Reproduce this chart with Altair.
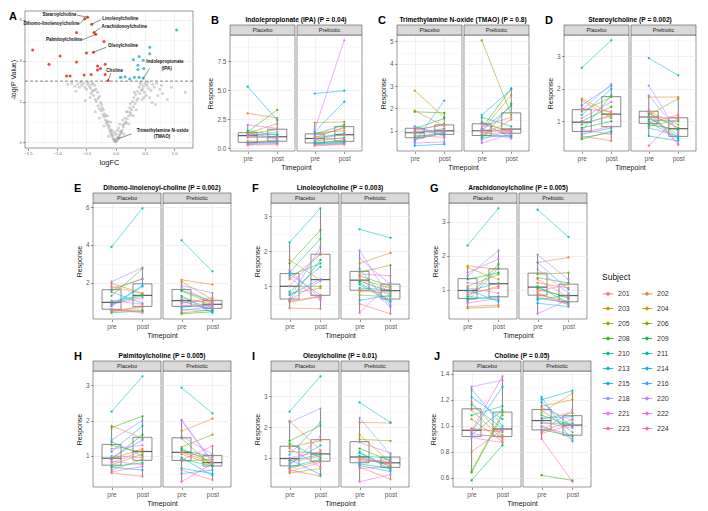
import math
import altair as alt
import pandas as pd

FONT = "Liberation Sans"

# ---------------- data ----------------
SUBJECTS = ["201", "202", "203", "204", "205", "206", "208", "209", "210", "211",
            "213", "214", "215", "216", "218", "220", "221", "222", "223", "224"]
TIMES = ["pre", "post"]
ARMS = ["Placebo", "Prebiotic"]

LETTERS = ["B", "C", "D", "E", "F", "G", "H", "I", "J"]
TITLES = ["Indolepropionate (IPA)", "Trimethylamine N-oxide (TMAO)", "Stearoylcholine",
          "Dihomo-linolenoyl-choline", "Linoleoylcholine", "Arachidonoylcholine",
          "Palmitoylcholine", "Oleoylcholine", "Choline"]
PVALUES = ["0.04", "0.8", "0.002", "0.002", "0.003", "0.005", "0.005", "0.01", "0.05"]
Y_MAJOR = [[0, 2.5, 5, 7.5], [1, 2, 3, 4, 5], [1, 2, 3], [2, 4, 6], [1, 2, 3],
           [1, 2, 3], [1, 2, 3], [1, 2, 3], [0.6, 0.8, 1.0, 1.2, 1.4]]
Y_FMT = [".1f", "d", "d", "d", "d", "d", "d", "d", ".1f"]

# values per subject (order of SUBJECTS)
ipa_pl_pre = [0.6, 3.0, 1.3, 0.9, 0.5, 1.2, 1.4, 1.15, 0.4, 1.5, 1.1, 0.3, 5.3, 0.45, 1.05, 1.0, 2.0, 0.35, 1.2, 0.25]
ipa_pl_post = [0.5, 2.6, 2.1, 1.0, 0.7, 1.6, 3.3, 1.2, 0.6, 1.1, 0.9, 0.4, 2.4, 0.55, 1.4, 0.8, 1.7, 0.5, 0.95, 0.3]
ipa_pb_pre = [0.5, 1.0, 2.2, 1.3, 0.3, 0.9, 0.6, 0.4, 1.2, 0.8, 0.45, 4.7, 1.4, 0.35, 0.7, 0.25, 1.6, 0.85, 1.1, 0.2]
ipa_pb_post = [0.6, 1.1, 2.25, 1.5, 0.4, 1.8, 0.9, 0.7, 2.0, 1.3, 0.5, 4.95, 4.0, 0.45, 1.2, 0.35, 9.3, 0.8, 1.7, 0.3]

tmao_pl_pre = [0.8, 1.9, 2.8, 0.95, 0.75, 1.0, 1.85, 1.1, 0.6, 0.9, 0.7, 1.2, 0.33, 0.5, 0.85, 1.15, 0.45, 1.05, 0.65, 0.92]
tmao_pl_post = [0.7, 1.2, 1.6, 1.0, 0.85, 1.3, 1.8, 1.55, 0.9, 1.1, 0.95, 0.8, 0.4, 2.35, 1.0, 0.75, 0.5, 1.25, 0.9, 1.05]
tmao_pb_pre = [1.3, 0.9, 1.0, 0.75, 1.4, 5.05, 0.65, 1.1, 0.8, 1.6, 0.7, 1.7, 1.0, 1.35, 0.6, 0.95, 0.45, 1.2, 1.05, 0.85]
tmao_pb_post = [1.0, 1.1, 2.6, 1.5, 0.9, 1.7, 2.2, 2.9, 0.75, 1.2, 0.8, 2.85, 2.1, 0.7, 1.05, 0.65, 0.85, 1.6, 1.0, 0.95]

stea_pl_pre = [0.55, 1.7, 1.65, 0.9, 0.5, 1.3, 1.0, 0.8, 0.45, 0.7, 2.65, 1.2, 0.6, 1.5, 0.95, 1.35, 1.1, 0.75, 1.4, 0.65]
stea_pl_post = [0.4, 1.25, 1.1, 1.2, 0.65, 1.75, 1.45, 1.0, 0.7, 1.8, 3.5, 2.0, 0.8, 2.1, 1.15, 2.15, 1.6, 0.6, 1.3, 0.85]
stea_pb_pre = [0.95, 1.75, 1.3, 1.1, 0.85, 1.2, 1.25, 0.9, 1.15, 1.05, 2.95, 1.0, 0.55, 0.8, 1.8, 2.1, 1.35, 0.25, 1.12, 1.28]
stea_pb_post = [1.2, 1.75, 0.9, 0.6, 1.05, 1.7, 0.8, 0.75, 0.5, 1.0, 2.42, 0.45, 0.4, 0.55, 0.7, 0.65, 0.3, 1.15, 1.1, 0.28]

dihomo_pl_pre = [0.6, 1.8, 1.95, 0.5, 0.45, 1.3, 1.6, 0.9, 0.4, 1.0, 3.9, 0.75, 0.8, 1.5, 2.05, 1.7, 1.05, 0.55, 0.85, 0.5]
dihomo_pl_post = [0.45, 1.4, 1.45, 0.55, 0.7, 2.75, 2.2, 1.3, 0.5, 1.35, 5.95, 1.8, 1.85, 0.9, 2.8, 2.2, 0.85, 0.4, 1.2, 0.75]
dihomo_pb_pre = [0.9, 2.15, 2.05, 1.2, 0.4, 1.55, 0.35, 1.6, 1.0, 0.7, 4.25, 1.3, 0.6, 1.1, 1.85, 1.75, 0.8, 0.5, 0.95, 0.75]
dihomo_pb_post = [1.2, 1.9, 1.1, 0.85, 0.55, 0.9, 0.45, 1.0, 0.6, 0.8, 2.6, 0.4, 0.5, 0.7, 1.45, 0.95, 0.65, 0.75, 1.05, 0.85]

lino_pl_pre = [0.38, 1.75, 1.2, 0.8, 0.55, 1.0, 1.65, 0.6, 1.4, 1.3, 2.25, 0.85, 0.75, 1.35, 0.65, 1.0, 1.25, 0.6, 1.45, 0.58]
lino_pl_post = [0.36, 1.18, 1.9, 0.95, 0.7, 1.0, 2.6, 1.75, 2.35, 1.65, 3.22, 1.55, 1.2, 0.75, 2.12, 1.95, 0.6, 1.15, 0.65, 0.72]
lino_pb_pre = [0.5, 1.65, 1.2, 0.9, 0.75, 1.4, 1.3, 1.15, 1.1, 0.95, 2.62, 1.05, 0.6, 1.5, 1.8, 2.02, 0.25, 1.25, 1.35, 0.85]
lino_pb_post = [0.22, 1.95, 0.95, 0.8, 0.7, 1.6, 1.0, 0.85, 0.6, 0.9, 2.38, 0.55, 0.75, 0.45, 1.05, 0.65, 1.1, 0.4, 1.3, 0.92]

arach_pl_pre = [0.5, 1.7, 1.65, 0.85, 0.45, 1.1, 0.75, 1.3, 0.7, 0.95, 2.3, 0.8, 1.0, 0.65, 1.4, 1.5, 1.2, 0.6, 1.05, 0.9]
arach_pl_post = [0.55, 1.6, 1.3, 1.1, 0.5, 1.45, 1.75, 1.5, 0.8, 1.2, 3.4, 0.7, 0.65, 1.65, 2.15, 1.9, 1.15, 0.75, 0.9, 1.05]
arach_pb_pre = [0.9, 1.8, 1.2, 1.0, 0.85, 1.45, 1.35, 1.05, 1.1, 0.7, 3.36, 0.6, 0.75, 1.8, 2.03, 1.6, 0.29, 0.95, 1.3, 0.8]
arach_pb_post = [0.55, 1.95, 1.05, 0.8, 0.65, 1.5, 1.2, 0.75, 0.6, 0.85, 2.55, 0.5, 0.62, 1.0, 1.3, 0.9, 0.7, 1.15, 0.78, 0.58]

palm_pl_pre = [0.52, 1.85, 0.92, 0.75, 0.6, 1.3, 1.8, 0.9, 0.7, 1.4, 2.25, 1.12, 0.68, 0.95, 1.45, 0.85, 1.2, 0.55, 0.8, 1.0]
palm_pl_post = [0.42, 1.5, 1.2, 1.05, 0.9, 1.1, 2.12, 1.6, 0.8, 1.0, 3.25, 1.85, 0.6, 1.45, 2.0, 0.75, 1.3, 0.7, 1.15, 0.95]
palm_pb_pre = [0.6, 1.7, 1.1, 1.05, 0.85, 1.25, 1.5, 1.2, 1.15, 0.9, 2.93, 0.65, 0.95, 0.5, 2.02, 1.55, 2.0, 0.27, 0.88, 1.1]
palm_pb_post = [0.32, 2.05, 0.8, 0.75, 0.9, 1.6, 0.7, 0.82, 1.0, 0.72, 2.2, 0.5, 0.45, 0.6, 0.85, 1.05, 0.8, 0.78, 1.28, 0.95]

oleo_pl_pre = [0.6, 2.2, 1.35, 0.5, 0.65, 1.2, 1.55, 0.9, 1.45, 0.7, 2.5, 0.8, 0.95, 1.1, 2.15, 0.75, 1.0, 0.55, 1.3, 0.85]
oleo_pl_post = [0.4, 1.25, 1.55, 0.65, 0.9, 1.15, 2.05, 1.1, 1.0, 0.95, 3.65, 1.4, 0.45, 2.15, 2.6, 1.7, 1.2, 0.85, 0.7, 1.05]
oleo_pb_pre = [0.7, 2.15, 1.75, 1.0, 0.95, 1.6, 1.3, 1.05, 0.8, 1.15, 2.8, 1.2, 0.75, 0.85, 2.3, 1.5, 0.22, 1.0, 0.9, 0.65]
oleo_pb_post = [0.3, 2.13, 0.85, 0.75, 0.8, 1.55, 0.9, 1.0, 0.65, 0.7, 2.15, 0.6, 0.55, 0.95, 1.1, 1.15, 0.45, 0.82, 0.88, 0.72]

chol_pl_pre = [0.8, 1.18, 1.12, 1.05, 0.98, 0.65, 0.64, 0.58, 1.08, 0.93, 1.16, 0.95, 1.22, 1.28, 0.92, 1.3, 0.91, 0.96, 0.97, 0.94]
chol_pl_post = [0.97, 0.92, 0.9, 0.88, 0.95, 1.1, 1.08, 0.85, 1.15, 1.12, 0.98, 1.3, 1.05, 1.0, 0.93, 1.35, 0.87, 1.38, 0.96, 0.91]
chol_pb_pre = [1.0, 1.1, 1.15, 0.95, 1.05, 1.12, 0.62, 0.97, 1.08, 1.02, 1.2, 1.22, 1.18, 1.06, 0.99, 1.14, 1.03, 0.96, 0.9, 0.94]
chol_pb_post = [0.9, 1.25, 1.2, 1.05, 1.1, 0.95, 0.58, 0.92, 1.0, 1.02, 1.27, 0.88, 0.99, 1.07, 0.93, 1.04, 0.98, 1.12, 0.57, 1.01]

PANEL_VALUES = [
    (ipa_pl_pre, ipa_pl_post, ipa_pb_pre, ipa_pb_post),
    (tmao_pl_pre, tmao_pl_post, tmao_pb_pre, tmao_pb_post),
    (stea_pl_pre, stea_pl_post, stea_pb_pre, stea_pb_post),
    (dihomo_pl_pre, dihomo_pl_post, dihomo_pb_pre, dihomo_pb_post),
    (lino_pl_pre, lino_pl_post, lino_pb_pre, lino_pb_post),
    (arach_pl_pre, arach_pl_post, arach_pb_pre, arach_pb_post),
    (palm_pl_pre, palm_pl_post, palm_pb_pre, palm_pb_post),
    (oleo_pl_pre, oleo_pl_post, oleo_pb_pre, oleo_pb_post),
    (chol_pl_pre, chol_pl_post, chol_pb_pre, chol_pb_post),
]

# volcano plot (panel A)
red_fc = [-0.48, -0.53, -0.41, -0.67, -0.37, -0.34, -0.20, -1.42, -0.50, -0.38, -0.95, -0.67,
          -1.14, -0.31, -0.18, -0.26, -0.31, -0.84, -0.78, -0.54, -0.42, -0.18, -0.13]
red_p = [6.13, 6.06, 5.78, 5.38, 5.38, 5.30, 4.94, 4.53, 4.38, 4.42, 4.23, 3.94,
         3.83, 3.74, 3.83, 3.62, 3.54, 3.25, 3.25, 3.30, 3.33, 3.33, 3.03]
cyan_fc = [1.04, 0.58, 0.58, 0.40, 0.30, 0.47, 0.38, 0.48, 0.38, 0.16, 0.32, 0.40, 0.47, 0.08, 0.09, 0.24]
cyan_p = [5.51, 4.66, 4.34, 4.21, 4.05, 4.02, 3.78, 3.62, 3.57, 3.22, 3.19, 3.19, 3.14, 3.19, 3.19, 3.10]
grey_fc = [-0.02, 0.01, 0.03, -0.04, 0.05, -0.01, 0.02, -0.06, 0.07, 0.0,
           -0.08, 0.09, -0.05, 0.04, -0.1, 0.11, -0.03, 0.06, -0.12, 0.13,
           -0.09, 0.1, -0.14, 0.15, -0.07, 0.08, -0.16, 0.17, -0.11, 0.12,
           -0.18, 0.2, -0.13, 0.16, -0.2, 0.22, -0.15, 0.18, -0.22, 0.25,
           -0.17, 0.21, -0.25, 0.27, -0.19, 0.24, -0.28, 0.3, -0.21, 0.26,
           -0.3, 0.33, -0.24, 0.29, -0.33, 0.36, -0.26, 0.31, -0.35, 0.38,
           -0.28, 0.34, -0.38, 0.41, -0.31, 0.37, -0.4, 0.44, -0.34, 0.4,
           -0.43, 0.47, -0.36, 0.43, -0.45, 0.5, -0.39, 0.46, -0.48, 0.53,
           -0.42, 0.49, -0.5, 0.56, -0.44, 0.52, -0.53, 0.6, -0.47, 0.55,
           -0.55, 0.63, -0.58, 0.66, -0.6, 0.7, -0.62, 0.58, -0.65, 0.75,
           -0.7, 0.8, -0.75, 0.88, -0.82, 1.19, 0.62, 0.68, -0.52, 0.45,
           -0.06, 0.05, -0.12, 0.14, -0.2, 0.22, -0.28, 0.3, -0.35, 0.35,
           0.0, -0.02, 0.03, 0.07, -0.09, 0.12, -0.14, 0.18, -0.23, 0.25,
           -0.3, 0.32, -0.37, 0.42, -0.41, 0.48, 0.72, 0.78, 0.95, -0.68]
grey_p = [0.05, 0.08, 0.12, 0.15, 0.2, 0.1, 0.22, 0.28, 0.3, 0.03,
          0.4, 0.45, 0.35, 0.25, 0.55, 0.6, 0.18, 0.38, 0.7, 0.75,
          0.62, 0.5, 0.85, 0.9, 0.48, 0.55, 0.95, 1.0, 0.8, 0.85,
          1.1, 1.15, 1.0, 1.2, 1.25, 1.3, 1.05, 0.95, 1.35, 1.45,
          1.3, 1.5, 1.55, 1.6, 1.4, 1.7, 1.65, 1.75, 1.6, 1.35,
          1.8, 1.9, 1.85, 2.0, 2.0, 2.05, 1.95, 2.2, 2.1, 2.15,
          2.25, 2.35, 2.3, 2.4, 2.45, 2.5, 2.5, 2.55, 2.6, 2.7,
          2.65, 2.75, 2.8, 2.85, 2.75, 2.9, 2.9, 2.6, 2.85, 2.8,
          2.4, 2.45, 2.6, 2.65, 2.2, 2.3, 2.7, 2.55, 2.95, 2.95,
          2.9, 2.85, 2.8, 2.7, 2.95, 2.9, 2.7, 2.2, 2.85, 2.6,
          2.75, 2.4, 2.9, 2.1, 2.85, 2.45, 1.95, 1.85, 2.05, 2.1,
          0.6, 0.7, 0.3, 0.4, 0.8, 0.9, 1.2, 1.3, 1.5, 1.6,
          0.4, 0.5, 0.6, 0.9, 1.0, 1.1, 1.3, 1.5, 1.7, 1.9,
          2.15, 2.45, 2.55, 2.95, 2.85, 2.2, 2.3, 2.8, 2.7, 2.5]
P_THRESHOLD = [3.0]
VX_TICKS = [-1.5, -1.0, -0.5, 0.0, 0.5, 1.0]
VY_TICKS = [0, 2, 4, 6]

lab_right_text = ["Stearoylcholine", "Dihomo-linolenoylcholine", "Palmitoylcholine"]
lab_right_fc = [-0.66, -0.61, -0.56]
lab_right_p = [6.23, 5.82, 5.03]
lab_left_text = ["Linoleoylcholine", "Arachidonoylcholine", "Oleoylcholine", "Choline"]
lab_left_fc = [-0.24, -0.25, -0.14, -0.17]
lab_left_p = [6.05, 5.66, 4.70, 3.52]
lab_mid_text = ["Indolepropionate", "(IPA)", "Trimethylamine N-oxide", "(TMAO)"]
lab_mid_fc = [0.84, 0.87, 0.80, 0.79]
lab_mid_p = [3.94, 3.60, 0.58, 0.26]
lead_x1 = [-0.66, -0.61, -0.41, -0.37, -0.56, -0.38, -0.13, 0.47, 0.04]
lead_y1 = [6.23, 5.82, 5.78, 5.38, 5.03, 4.42, 3.03, 3.14, 0.17]
lead_x2 = [-0.48, -0.53, -0.25, -0.26, -0.34, -0.16, -0.08, 0.58, 0.27]
lead_y2 = [6.13, 6.06, 6.02, 5.62, 5.30, 4.66, 3.40, 3.62, 0.42]


# ---------------- helpers ----------------
def hcl_hex(h, c=100.0, l=65.0):
    hr = math.radians(h)
    u, v = c * math.cos(hr), c * math.sin(hr)
    Xn, Yn, Zn = 95.047, 100.0, 108.883
    d = Xn + 15 * Yn + 3 * Zn
    un, vn = 4 * Xn / d, 9 * Yn / d
    Y = Yn * ((l + 16) / 116) ** 3
    up, vp = u / (13 * l) + un, v / (13 * l) + vn
    X = Y * 9 * up / (4 * vp)
    Z = Y * (12 - 3 * up - 20 * vp) / (4 * vp)
    X, Y, Z = X / 100, Y / 100, Z / 100
    rgb = [3.240479 * X - 1.537150 * Y - 0.498535 * Z,
           -0.969256 * X + 1.875992 * Y + 0.041556 * Z,
           0.055648 * X - 0.204043 * Y + 1.057311 * Z]
    out = []
    for ch in rgb:
        ch = 12.92 * ch if ch <= 0.0031308 else 1.055 * ch ** (1 / 2.4) - 0.055
        out.append(max(0, min(255, round(ch * 255))))
    return "#%02X%02X%02X" % tuple(out)


COLORS = [hcl_hex(15 + 360 * i / len(SUBJECTS)) for i in range(len(SUBJECTS))]
COLOR_SCALE = alt.Scale(domain=SUBJECTS, range=COLORS)
TOP = 0.99  # text opacity (keeps glyph antialiasing neutral)

LEGEND = alt.Legend(
    title="Subject", columns=2, direction="horizontal", orient="none", legendX=577, legendY=262,
    symbolType="M-1,0L1,0M-0.28,0A0.28,0.28,0,1,1,0.28,0A0.28,0.28,0,1,1,-0.28,0Z",
    symbolSize=110, symbolStrokeWidth=0.9, labelFontSize=7, titleFontSize=8.5,
    titleFontWeight="normal", rowPadding=5, columnPadding=9, labelOffset=4,
    labelFont=FONT, titleFont=FONT, titlePadding=6, labelColor="#1a1a1a",
    labelOpacity=TOP, titleOpacity=TOP,
)

HA = 116
WV, HV = 168, 137


def minor_of(majors, lo, hi):
    step = majors[1] - majors[0]
    cand = [majors[0] - step / 2] + [(a + b) / 2 for a, b in zip(majors[:-1], majors[1:])] + [majors[-1] + step / 2]
    return [round(c, 4) for c in cand if lo <= c <= hi]


def grid_axis(majors, minors, fmt, show, title, **kw):
    js = "[" + ",".join(repr(float(m)) for m in majors) + "]"
    is_minor = f"indexof({js}, datum.value) < 0"
    vals = sorted(float(v) for v in majors + minors)
    args = dict(values=vals, grid=True, gridColor="#ebebeb",
                gridWidth={"condition": {"test": is_minor, "value": 0.35}, "value": 0.7},
                domain=False, labelOverlap=False)
    if show:
        args.update(labelExpr=f"{is_minor} ? '' : format(datum.value, '{fmt}')",
                    tickOpacity={"condition": {"test": is_minor, "value": 0}, "value": 1},
                    title=title)
    else:
        args.update(labels=False, ticks=False, title=None)
    args.update(kw)
    return alt.Axis(**args)


def long_df(pre, post):
    rows = []
    for s, a, b in zip(SUBJECTS, pre, post):
        rows.append({"subject": s, "time": "pre", "value": a})
        rows.append({"subject": s, "time": "post", "value": b})
    return pd.DataFrame(rows)


def arm_chart(df, dom, majors, fmt, first, strip, letter, title, wa):
    minors = minor_of(majors, dom[0], dom[1])
    xenc = alt.X("time:N", sort=TIMES,
                 scale=alt.Scale(type="point", domain=TIMES, padding=0.6),
                 axis=alt.Axis(grid=True, gridColor="#ebebeb", gridWidth=0.7, labelAngle=0,
                               domain=False, title="Timepoint" if first else None,
                               titleX=wa + 1, labelPadding=1.5, titlePadding=2))
    yenc = alt.Y("value:Q", scale=alt.Scale(domain=dom, nice=False, zero=False),
                 axis=grid_axis(majors, minors, fmt, first, "Response"))
    base = alt.Chart(df)
    box = base.mark_boxplot(
        extent=1.5, size=19, outliers=False, ticks=False,
        box={"fill": "#ffffff", "fillOpacity": 0, "stroke": "#595959", "strokeWidth": 0.7},
        rule={"stroke": "#595959", "strokeWidth": 0.7},
        median={"color": "#1a1a1a", "thickness": 1.2},
    ).encode(x=xenc, y=yenc)
    color = alt.Color("subject:N", scale=COLOR_SCALE, legend=LEGEND)
    lines = base.mark_line(strokeWidth=0.55).encode(x=xenc, y=yenc, color=color)
    pts = base.mark_circle(size=5, opacity=1).encode(x=xenc, y=yenc, color=color)
    sdf = pd.DataFrame({"label": [strip]})
    srect = alt.Chart(sdf).mark_rect(fill="#d9d9d9", stroke="#333333", strokeWidth=0.5).encode(
        x=alt.value(0), x2=alt.value(wa), y=alt.value(-10), y2=alt.value(0))
    stext = alt.Chart(sdf).mark_text(fontSize=5.5, font=FONT, color="#1a1a1a", baseline="middle",
                                     opacity=TOP).encode(
        x=alt.value(wa / 2), y=alt.value(-4.8), text="label:N")
    layers = [box, lines, pts, srect, stext]
    if first:
        tdf = pd.DataFrame({"title": [title], "letter": [letter]})
        ttext = alt.Chart(tdf).mark_text(fontSize=6.6, font=FONT, fontWeight="bold", color="#000000",
                                         baseline="middle", align="center", opacity=TOP).encode(
            x=alt.value(wa + 1), y=alt.value(-15.5), text="title:N")
        ltext = alt.Chart(tdf).mark_text(fontSize=11, font=FONT, fontWeight="bold", color="#000000",
                                         baseline="middle", align="left", opacity=TOP).encode(
            x=alt.value(-19), y=alt.value(-14), text="letter:N")
        layers += [ttext, ltext]
    return alt.layer(*layers).properties(width=wa, height=HA)


def panel(i, wa):
    pl_pre, pl_post, pb_pre, pb_post = PANEL_VALUES[i]
    allv = pl_pre + pl_post + pb_pre + pb_post
    lo, hi = min(allv), max(allv)
    r = hi - lo
    dom = [lo - 0.05 * r, hi + 0.05 * r]
    title = f"{TITLES[i]} (P = {PVALUES[i]})"
    a1 = arm_chart(long_df(pl_pre, pl_post), dom, Y_MAJOR[i], Y_FMT[i], True, ARMS[0], LETTERS[i], title, wa)
    a2 = arm_chart(long_df(pb_pre, pb_post), dom, Y_MAJOR[i], Y_FMT[i], False, ARMS[1], LETTERS[i], title, wa)
    return alt.hconcat(a1, a2, spacing=2, bounds="flush").resolve_scale(x="independent", y="independent")


# ---------------- volcano ----------------
def volcano():
    allx = red_fc + cyan_fc + grey_fc
    ally = red_p + cyan_p + grey_p
    rx, ry = max(allx) - min(allx), max(ally) - min(ally)
    xdom = [min(allx) - 0.05 * rx, max(allx) + 0.05 * rx]
    ydom = [min(ally) - 0.05 * ry, max(ally) + 0.05 * ry]
    xminor = minor_of(VX_TICKS, xdom[0], xdom[1])
    yminor = minor_of(VY_TICKS, ydom[0], ydom[1])
    xenc = lambda f: alt.X(f, type="quantitative", scale=alt.Scale(domain=xdom, nice=False, zero=False),
                           axis=grid_axis(VX_TICKS, xminor, ".1f", True, "logFC",
                                          labelFontSize=4.3, titleFontSize=7.5, labelPadding=1))
    yenc = lambda f: alt.Y(f, type="quantitative", scale=alt.Scale(domain=ydom, nice=False, zero=False),
                           axis=grid_axis(VY_TICKS, yminor, "d", True, "-log(P Value)",
                                          labelFontSize=4.3, titleFontSize=7, labelPadding=1))
    gdf = pd.DataFrame({"fc": grey_fc, "p": grey_p})
    rdf = pd.DataFrame({"fc": red_fc, "p": red_p})
    cdf = pd.DataFrame({"fc": cyan_fc, "p": cyan_p})
    grey = alt.Chart(gdf).mark_circle(size=9, color="#8f8f8f", opacity=0.4).encode(x=xenc("fc"), y=yenc("p"))
    red = alt.Chart(rdf).mark_circle(size=9, color="#E64B35", opacity=1).encode(x=xenc("fc"), y=yenc("p"))
    cyan = alt.Chart(cdf).mark_circle(size=9, color="#4DBBD5", opacity=1).encode(x=xenc("fc"), y=yenc("p"))
    thr = alt.Chart(pd.DataFrame({"p": P_THRESHOLD})).mark_rule(
        color="#333333", strokeWidth=0.6, strokeDash=[3, 2]).encode(y=yenc("p"))
    ldf = pd.DataFrame({"x1": lead_x1, "y1": lead_y1, "x2": lead_x2, "y2": lead_y2})
    leads = alt.Chart(ldf).mark_rule(color="#1a1a1a", strokeWidth=0.5).encode(
        x=xenc("x1"), y=yenc("y1"), x2="x2:Q", y2="y2:Q")
    txt = dict(fontSize=4.6, font=FONT, fontWeight="bold", color="#111111", baseline="middle", opacity=TOP)
    lr = alt.Chart(pd.DataFrame({"t": lab_right_text, "x": lab_right_fc, "y": lab_right_p})).mark_text(
        align="right", dx=-0.5, **txt).encode(x=xenc("x"), y=yenc("y"), text="t:N")
    ll = alt.Chart(pd.DataFrame({"t": lab_left_text, "x": lab_left_fc, "y": lab_left_p})).mark_text(
        align="left", dx=0.5, **txt).encode(x=xenc("x"), y=yenc("y"), text="t:N")
    lm = alt.Chart(pd.DataFrame({"t": lab_mid_text, "x": lab_mid_fc, "y": lab_mid_p})).mark_text(
        align="center", **txt).encode(x=xenc("x"), y=yenc("y"), text="t:N")
    letter = alt.Chart(pd.DataFrame({"l": ["A"]})).mark_text(
        fontSize=11, font=FONT, fontWeight="bold", color="#000000", align="left", baseline="middle",
        opacity=TOP).encode(x=alt.value(-16), y=alt.value(5.5), text="l:N")
    return alt.layer(grey, thr, red, cyan, leads, lr, ll, lm, letter).properties(width=WV, height=HV)


def spacer(w, h=10):
    return alt.Chart(pd.DataFrame({"a": [0]})).mark_point(opacity=0).encode(
        x=alt.value(0), y=alt.value(0)).properties(
        width=w, height=h, view=alt.ViewBackground(stroke="transparent"))


IND = dict(x="independent", y="independent")
panels_r1 = alt.hconcat(panel(0, 65), panel(1, 65), panel(2, 65), spacing=14).resolve_scale(**IND)
right_r1 = alt.vconcat(spacer(10, 1), panels_r1, spacing=0).resolve_scale(**IND)
row1 = alt.hconcat(volcano(), right_r1, spacing=12).resolve_scale(**IND)
row2 = alt.hconcat(spacer(28), panel(3, 68), panel(4, 68), panel(5, 68), spacing=19).resolve_scale(**IND)
row3 = alt.hconcat(spacer(28), panel(6, 68), panel(7, 68), panel(8, 68), spacing=19).resolve_scale(**IND)

chart = alt.vconcat(row1, row2, row3, spacing=11).resolve_scale(
    x="independent", y="independent", color="shared"
).properties(
    padding={"left": 0, "top": 0, "right": 0, "bottom": 0},
    background="#ffffff",
).configure_view(
    stroke="#333333", strokeWidth=0.5
).configure_axis(
    labelFont=FONT, titleFont=FONT, labelFontSize=6.5, titleFontSize=7,
    labelColor="#4d4d4d", titleColor="#000000", titleFontWeight="normal",
    tickColor="#333333", tickSize=2.5, tickWidth=0.5, titlePadding=3, labelPadding=1.5,
    labelOpacity=TOP, titleOpacity=TOP,
).configure_text(font=FONT)

chart.save("out.html", embed_options={"renderer": "svg", "actions": False})
